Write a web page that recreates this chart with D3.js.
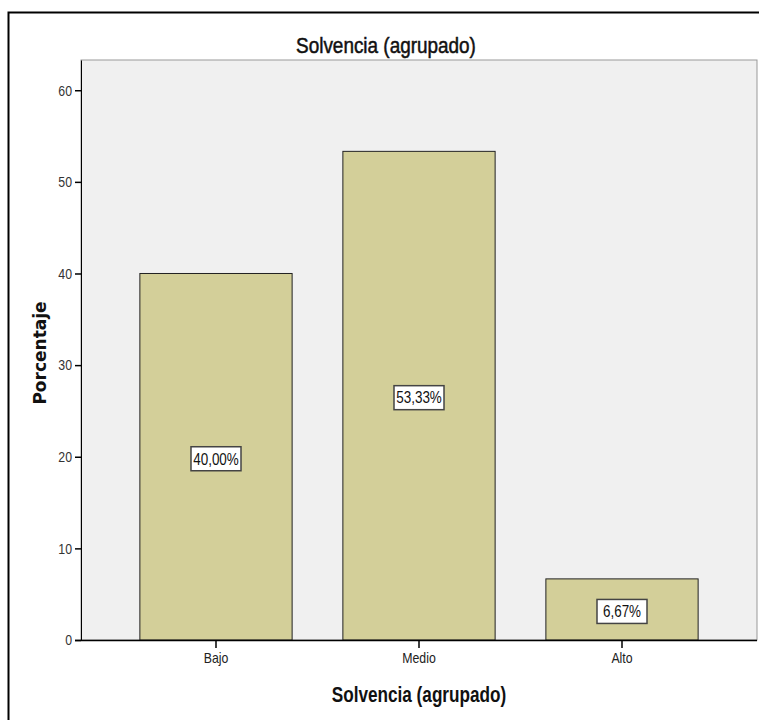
<!DOCTYPE html>
<html>
<head>
<meta charset="utf-8">
<script src="https://cdn.jsdelivr.net/npm/d3@7"></script>
<style>
  body { margin: 0; background: #fff; }
  svg text { font-family: "Liberation Sans Narrow", "Arial Narrow", "Liberation Sans", Arial, sans-serif; }
</style>
</head>
<body>
<div id="chart"></div>
<script>
const categories = ["Bajo", "Medio", "Alto"];
const percentages = [40.00, 53.33, 6.67];
const yTicks = [0, 10, 20, 30, 40, 50, 60];
const chartTitle = "Solvencia (agrupado)";
const xTitle = "Solvencia (agrupado)";
const yTitle = "Porcentaje";

const W = 759, H = 720;
const plot = { left: 81, top: 60, right: 757, bottom: 640 };

// estrecha el texto (la fuente original es condensada)
function narrow(sel, f) {
  sel.each(function() {
    const len = this.getComputedTextLength();
    d3.select(this).attr("textLength", len * f).attr("lengthAdjust", "spacingAndGlyphs");
  });
}

const svg = d3.select("#chart").append("svg")
  .attr("width", W).attr("height", H);

// marco exterior
svg.append("rect")
  .attr("x", 8.5).attr("y", 12.5)
  .attr("width", W + 10).attr("height", H + 10)
  .attr("fill", "#fff").attr("stroke", "#000").attr("stroke-width", 2);

const x = d3.scaleBand()
  .domain(categories)
  .range([plot.left, plot.right])
  .paddingInner(0.25)
  .paddingOuter(0.29);

const y = d3.scaleLinear()
  .domain([0, 63.3])
  .range([plot.bottom, plot.top]);

// fondo del área de trazado
svg.append("rect")
  .attr("x", plot.left).attr("y", plot.top)
  .attr("width", plot.right - plot.left).attr("height", plot.bottom - plot.top)
  .attr("fill", "#f0f0f0").attr("stroke", "#999").attr("stroke-width", 1);

// título
svg.append("text")
  .attr("x", 386).attr("y", 53)
  .attr("text-anchor", "middle")
  .attr("font-size", 22).attr("fill", "#111")
  .attr("stroke", "#111").attr("stroke-width", 0.5)
  .text(chartTitle)
  .call(narrow, 0.86);

// barras
svg.append("g").selectAll("rect")
  .data(percentages)
  .enter().append("rect")
  .attr("x", (d, i) => x(categories[i]))
  .attr("y", d => y(d))
  .attr("width", x.bandwidth())
  .attr("height", d => y(0) - y(d))
  .attr("fill", "#d3cf99")
  .attr("stroke", "#222").attr("stroke-width", 1);

// etiquetas de porcentaje
const lab = svg.append("g").selectAll("g")
  .data(percentages)
  .enter().append("g")
  .attr("transform", (d, i) => `translate(${x(categories[i]) + x.bandwidth() / 2},${y(d / 2) + 2})`);

lab.append("rect")
  .attr("x", -25).attr("y", -12)
  .attr("width", 50).attr("height", 24)
  .attr("fill", "#fff").attr("stroke", "#444").attr("stroke-width", 1.5);

lab.append("text")
  .attr("text-anchor", "middle").attr("dy", "0.36em")
  .attr("font-size", 16).attr("fill", "#111")
  .text(d => d.toFixed(2).replace(".", ",") + "%")
  .call(narrow, 0.84);

// eje Y
const yAxis = svg.append("g")
  .attr("transform", `translate(${plot.left},0)`)
  .call(d3.axisLeft(y).tickValues(yTicks).tickSize(6).tickPadding(3).tickSizeOuter(0));
yAxis.select(".domain").attr("stroke", "#000");
yAxis.selectAll(".tick line").attr("stroke", "#000").attr("stroke-width", 1.5);
yAxis.selectAll(".tick text").attr("font-size", 15).attr("fill", "#333")
  .style("font-family", "'Liberation Sans', Arial, sans-serif")
  .call(narrow, 0.82);

// eje X
const xAxis = svg.append("g")
  .attr("transform", `translate(0,${plot.bottom})`)
  .call(d3.axisBottom(x).tickSize(8).tickPadding(4).tickSizeOuter(0));
xAxis.select(".domain").attr("d", `M${plot.left - 6},0.5H${plot.right}`).attr("stroke", "#000").attr("stroke-width", 1.5);
xAxis.selectAll(".tick line").attr("stroke", "#000").attr("stroke-width", 1.5);
xAxis.selectAll(".tick text").attr("font-size", 15).attr("fill", "#222")
  .style("font-family", "'Liberation Sans', Arial, sans-serif")
  .call(narrow, 0.82);

// títulos de ejes
svg.append("text")
  .attr("x", (plot.left + plot.right) / 2).attr("y", 702)
  .attr("text-anchor", "middle")
  .attr("font-size", 22).attr("font-weight", "bold").attr("fill", "#111")
  .text(xTitle)
  .call(narrow, 0.78);

svg.append("text")
  .attr("transform", `translate(46,353) rotate(-90)`)
  .attr("text-anchor", "middle")
  .attr("font-size", 17).attr("font-weight", "bold").attr("fill", "#111")
  .style("font-family", "'DejaVu Sans', sans-serif")
  .text(yTitle);
</script>
</body>
</html>
